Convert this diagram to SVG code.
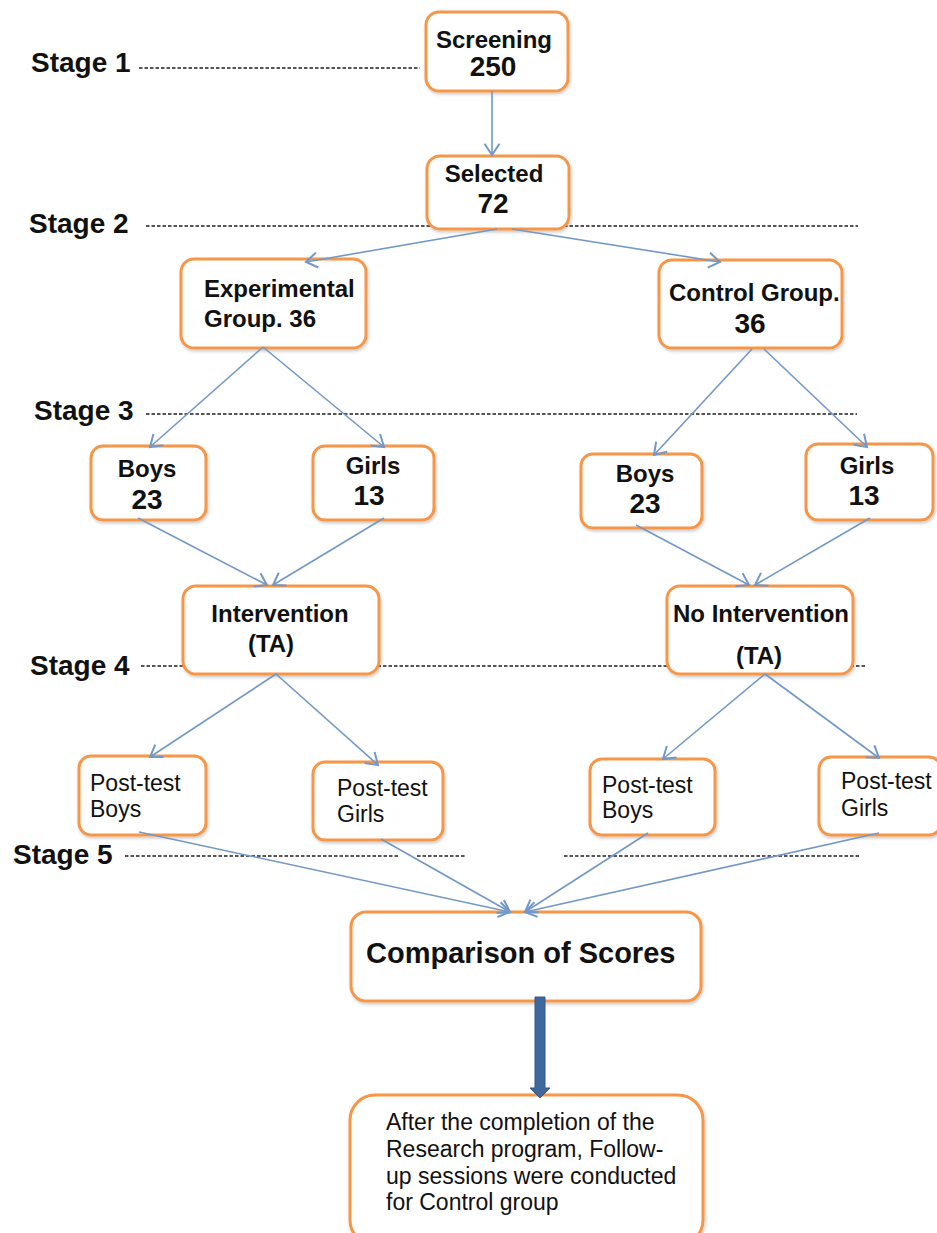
<svg xmlns="http://www.w3.org/2000/svg" width="937" height="1233" viewBox="0 0 937 1233">
<defs>
<style>
.box{fill:#fff;stroke:#f79646;stroke-width:3}
.b{font-family:"Liberation Sans",Arial,sans-serif;font-weight:bold;font-size:24px;fill:#111}
.n{font-family:"Liberation Sans",Arial,sans-serif;font-weight:bold;font-size:28px;fill:#111}
.r{font-family:"Liberation Sans",Arial,sans-serif;font-size:23px;fill:#111}
.stage{font-family:"Liberation Sans",Arial,sans-serif;font-weight:bold;font-size:28px;fill:#111}
.dash{stroke:#555;stroke-width:1.8;stroke-dasharray:3.5 2;fill:none}
.con{stroke:#7198c8;stroke-width:1.6;fill:none;marker-end:url(#ah)}
</style>
<marker id="ah" markerUnits="userSpaceOnUse" markerWidth="20" markerHeight="20" refX="0" refY="0" viewBox="-12 -8 14 16" orient="auto">
<path d="M-9,-6 L0,0 L-9,6" fill="none" stroke="#7198c8" stroke-width="1.6"/>
</marker>
<filter id="sh" x="-10%" y="-10%" width="130%" height="130%">
<feDropShadow dx="1" dy="2" stdDeviation="1.5" flood-color="#000" flood-opacity="0.2"/>
</filter>
</defs>
<rect width="937" height="1233" fill="#fff"/>

<g id="stage-lines">
<line class="dash" x1="139" y1="68" x2="420" y2="68"/>
<line class="dash" x1="146" y1="226" x2="858" y2="226"/>
<line class="dash" x1="146" y1="414" x2="857" y2="414"/>
<line class="dash" x1="141" y1="666" x2="867" y2="666"/>
<line class="dash" x1="125" y1="856" x2="399" y2="856"/>
<line class="dash" x1="417" y1="856" x2="465" y2="856"/>
<line class="dash" x1="564" y1="856" x2="861" y2="856"/>
<text class="stage" x="31" y="72">Stage 1</text>
<text class="stage" x="29" y="233">Stage 2</text>
<text class="stage" x="34" y="420">Stage 3</text>
<text class="stage" x="30" y="675">Stage 4</text>
<text class="stage" x="13" y="864">Stage 5</text>
</g>

<g id="screening"><rect class="box" filter="url(#sh)" x="426" y="12" width="142" height="79" rx="13"/>
<text class="b" x="494" y="48" text-anchor="middle">Screening</text>
<text class="n" x="493" y="76" text-anchor="middle">250</text></g>

<g id="selected"><rect class="box" filter="url(#sh)" x="427" y="156" width="142" height="73" rx="13"/>
<text class="b" x="494" y="182" text-anchor="middle">Selected</text>
<text class="n" x="493" y="213" text-anchor="middle">72</text></g>

<g id="experimental"><rect class="box" filter="url(#sh)" x="181" y="259" width="185" height="89" rx="13"/>
<text class="b" x="204" y="297">Experimental</text>
<text class="b" x="204" y="327">Group. 36</text></g>

<g id="control"><rect class="box" filter="url(#sh)" x="659" y="260" width="183" height="88" rx="13"/>
<text class="b" x="669" y="301">Control Group.</text>
<text class="n" x="750" y="333" text-anchor="middle">36</text></g>

<g id="exp-boys"><rect class="box" filter="url(#sh)" x="91" y="446" width="115" height="74" rx="12"/>
<text class="b" x="147" y="477" text-anchor="middle">Boys</text>
<text class="n" x="147" y="509" text-anchor="middle">23</text></g>

<g id="exp-girls"><rect class="box" filter="url(#sh)" x="313" y="446" width="121" height="74" rx="12"/>
<text class="b" x="373" y="474" text-anchor="middle">Girls</text>
<text class="n" x="369" y="505" text-anchor="middle">13</text></g>

<g id="ctl-boys"><rect class="box" filter="url(#sh)" x="581" y="454" width="121" height="74" rx="12"/>
<text class="b" x="645" y="482" text-anchor="middle">Boys</text>
<text class="n" x="645" y="513" text-anchor="middle">23</text></g>

<g id="ctl-girls"><rect class="box" filter="url(#sh)" x="806" y="444" width="127" height="76" rx="12"/>
<text class="b" x="867" y="474" text-anchor="middle">Girls</text>
<text class="n" x="864" y="505" text-anchor="middle">13</text></g>

<g id="intervention"><rect class="box" filter="url(#sh)" x="183" y="586" width="196" height="88" rx="13"/>
<text class="b" x="280" y="622" text-anchor="middle">Intervention</text>
<text class="b" x="271" y="652" text-anchor="middle">(TA)</text></g>

<g id="no-intervention"><rect class="box" filter="url(#sh)" x="667" y="586" width="186" height="88" rx="13"/>
<text class="b" x="761" y="622" text-anchor="middle">No Intervention</text>
<text class="b" x="759" y="664" text-anchor="middle">(TA)</text></g>

<g id="post-exp-boys"><rect class="box" filter="url(#sh)" x="79" y="756" width="127" height="79" rx="12"/>
<text class="r" x="90" y="791">Post-test</text>
<text class="r" x="90" y="817">Boys</text></g>

<g id="post-exp-girls"><rect class="box" filter="url(#sh)" x="313" y="762" width="130" height="78" rx="12"/>
<text class="r" x="337" y="796">Post-test</text>
<text class="r" x="337" y="822">Girls</text></g>

<g id="post-ctl-boys"><rect class="box" filter="url(#sh)" x="590" y="759" width="125" height="76" rx="12"/>
<text class="r" x="602" y="793">Post-test</text>
<text class="r" x="602" y="818">Boys</text></g>

<g id="post-ctl-girls"><rect class="box" filter="url(#sh)" x="819" y="757" width="122" height="78" rx="12"/>
<text class="r" x="841" y="789">Post-test</text>
<text class="r" x="841" y="816">Girls</text></g>

<g id="comparison"><rect class="box" filter="url(#sh)" x="351" y="912" width="350" height="89" rx="15"/>
<text class="b" x="366" y="963" style="font-size:29px">Comparison of Scores</text></g>

<g id="follow-up"><rect class="box" filter="url(#sh)" x="350" y="1095" width="353" height="150" rx="25"/>
<text class="r" x="386" y="1130">After the completion of the</text>
<text class="r" x="386" y="1157">Research program, Follow-</text>
<text class="r" x="386" y="1184">up sessions were conducted</text>
<text class="r" x="386" y="1210">for Control group</text></g>

<g id="connectors">
<line class="con" x1="492" y1="91" x2="492" y2="155"/>
<line class="con" x1="497" y1="229" x2="306" y2="262"/>
<line class="con" x1="512" y1="229" x2="720" y2="262"/>
<line class="con" x1="263" y1="347" x2="150" y2="447"/>
<line class="con" x1="263" y1="347" x2="384" y2="447"/>
<line class="con" x1="752" y1="349" x2="654" y2="455"/>
<line class="con" x1="764" y1="349" x2="867" y2="447"/>
<line class="con" x1="138" y1="518" x2="267" y2="585"/>
<line class="con" x1="384" y1="518" x2="273" y2="585"/>
<line class="con" x1="636" y1="525" x2="749" y2="585"/>
<line class="con" x1="870" y1="518" x2="755" y2="585"/>
<line class="con" x1="276" y1="674" x2="150" y2="757"/>
<line class="con" x1="276" y1="674" x2="378" y2="765"/>
<line class="con" x1="765" y1="674" x2="663" y2="759"/>
<line class="con" x1="765" y1="674" x2="879" y2="758"/>
<line class="con" x1="139" y1="832" x2="510" y2="912"/>
<line class="con" x1="381" y1="839" x2="510" y2="912"/>
<line class="con" x1="648" y1="833" x2="525" y2="912"/>
<line class="con" x1="879" y1="833" x2="525" y2="912"/>
<path d="M535,997 H545 V1088 H550 L540,1098 L530,1088 H535 Z" fill="#41689d" stroke="#34568a" stroke-width="1"/>
</g>
</svg>
